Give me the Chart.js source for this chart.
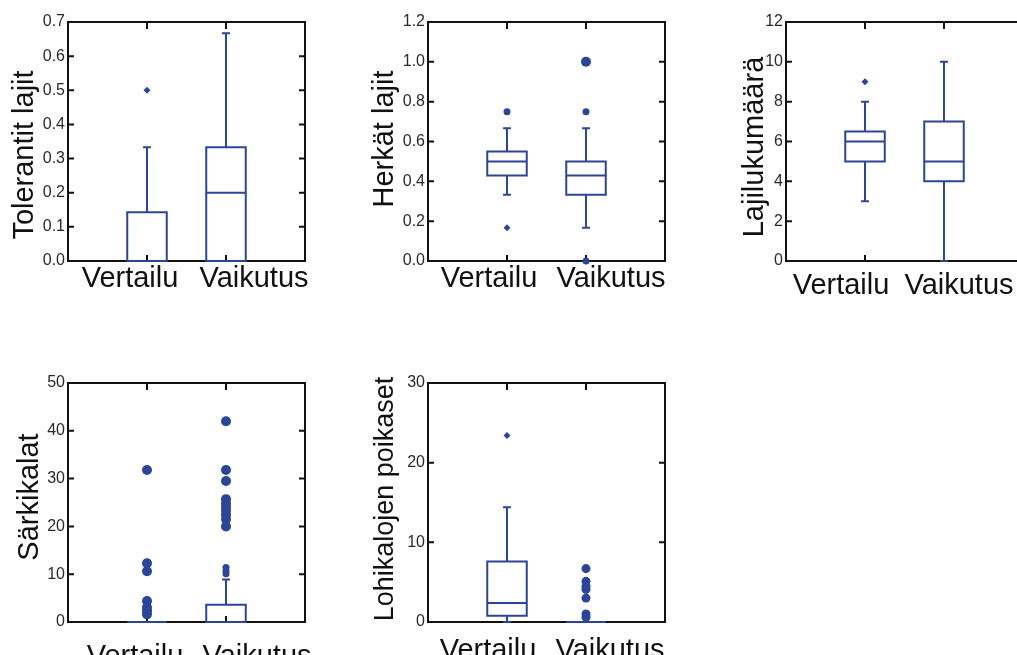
<!DOCTYPE html>
<html>
<head>
<meta charset="utf-8">
<script src="https://cdn.jsdelivr.net/npm/chart.js@4.4.0/dist/chart.umd.min.js"></script>
<style>
  html, body { margin: 0; padding: 0; background: #fff; overflow: hidden; }
  body { width: 1017px; height: 655px; position: relative; }
  .panel { position: absolute; width: 319px; height: 304px; }
</style>
</head>
<body>
<div class="panel" style="left:-2px; top:2px;"><canvas id="c1"></canvas></div>
<div class="panel" style="left:358px; top:2px;"><canvas id="c2"></canvas></div>
<div class="panel" style="left:716px; top:2px;"><canvas id="c3"></canvas></div>
<div class="panel" style="left:-2px; top:363px;"><canvas id="c4"></canvas></div>
<div class="panel" style="left:358px; top:363px;"><canvas id="c5"></canvas></div>
<script>
const categories = ['Vertailu', 'Vaikutus'];

// box summaries per group: [min, Q1, median, Q3, max]
const tolerantitBoxes = [[0, 0, 0, 0.143, 0.333], [0, 0, 0.2, 0.333, 0.667]];
const tolerantitStars = [[0.5], []];
const tolerantitDots = [[], []];
const tolerantitBig = [[], []];

const herkatBoxes = [[0.333, 0.429, 0.5, 0.55, 0.667], [0.167, 0.333, 0.429, 0.5, 0.667]];
const herkatStars = [[0.167], []];
const herkatDots = [[0.75], [0.75, 0]];
const herkatBig = [[], [1.0]];

const lajitBoxes = [[3, 5, 6, 6.5, 8], [0, 4, 5, 7, 10]];
const lajitStars = [[9], []];
const lajitDots = [[], []];
const lajitBig = [[], []];

const sarkiBoxes = [[0, 0, 0, 0, 0], [0, 0, 0, 3.6, 8.9]];
const sarkiStars = [[], []];
const sarkiDots = [[], [11.4, 10.7, 10.1]];
const sarkiBig = [[31.8, 12.3, 10.6, 4.4, 3.0, 2.3, 1.6],
                  [42, 31.8, 29.5, 25.7, 24.8, 24.0, 23.2, 22.4, 21.5, 20.0]];

const lohiBoxes = [[0, 0.8, 2.4, 7.6, 14.4], [0, 0, 0, 0, 0]];
const lohiStars = [[23.4], []];
const lohiDots = [[], []];
const lohiBig = [[], [6.7, 5.1, 4.5, 4.1, 3.0, 1.0, 0.6]];

const yTicks = {
  tolerantit: { max: 0.7, step: 0.1, decimals: 1 },
  herkat: { max: 1.2, step: 0.2, decimals: 1 },
  lajit: { max: 12, step: 2, decimals: 0 },
  sarki: { max: 50, step: 10, decimals: 0 },
  lohi: { max: 30, step: 10, decimals: 0 }
};

const BLUE = '#2c4596';
const INK = '#111';
const FONT = '"Liberation Sans", Arial, sans-serif';

function toPoints(groups) {
  return groups.flatMap((vals, i) => vals.map(v => ({ x: i + 1, y: v })));
}

// frame with inward ticks, the boxes and whiskers, and the texts
const boxPlotPlugin = {
  id: 'boxPlot',
  beforeDatasetsDraw(chart, args, opts) {
    const { ctx, chartArea: a, scales: { x, y } } = chart;
    ctx.save();

    ctx.strokeStyle = INK;
    ctx.lineWidth = 2;
    ctx.strokeRect(a.left, a.top, a.width, a.height);
    ctx.beginPath();
    y.ticks.forEach(t => {
      const py = y.getPixelForValue(t.value);
      ctx.moveTo(a.left, py); ctx.lineTo(a.left + 6, py);
      ctx.moveTo(a.right, py); ctx.lineTo(a.right - 6, py);
    });
    categories.forEach((c, i) => {
      const px = x.getPixelForValue(i + 1);
      ctx.moveTo(px, a.top); ctx.lineTo(px, a.top + 7);
      ctx.moveTo(px, a.bottom); ctx.lineTo(px, a.bottom - 6);
    });
    ctx.stroke();

    ctx.strokeStyle = BLUE;
    ctx.lineWidth = 2;
    opts.boxes.forEach((b, i) => {
      const [mn, q1, med, q3, mx] = b;
      const c = i + 1;
      const cx = x.getPixelForValue(c);
      const x0 = x.getPixelForValue(c - 0.25), x1 = x.getPixelForValue(c + 0.25);
      const k0 = x.getPixelForValue(c - 0.05), k1 = x.getPixelForValue(c + 0.05);
      const py = v => y.getPixelForValue(v);
      ctx.beginPath();
      ctx.rect(x0, py(q3), x1 - x0, py(q1) - py(q3));
      ctx.moveTo(x0, py(med)); ctx.lineTo(x1, py(med));
      if (mx > q3) {
        ctx.moveTo(cx, py(q3)); ctx.lineTo(cx, py(mx));
        ctx.moveTo(k0, py(mx)); ctx.lineTo(k1, py(mx));
      }
      if (mn < q1) {
        ctx.moveTo(cx, py(q1)); ctx.lineTo(cx, py(mn));
        ctx.moveTo(k0, py(mn)); ctx.lineTo(k1, py(mn));
      }
      ctx.stroke();
    });

    ctx.fillStyle = INK;
    ctx.textAlign = 'center';
    ctx.textBaseline = 'alphabetic';
    ctx.font = '29px ' + FONT;
    categories.forEach((c, i) => {
      ctx.fillText(c, a.left + opts.labelX[i], a.bottom + opts.labelDy);
    });

    ctx.translate(a.left + opts.titleDx, a.top + opts.titleY);
    ctx.rotate(-Math.PI / 2);
    ctx.font = opts.titleSize + 'px ' + FONT;
    ctx.fillText(opts.title, 0, 0);
    ctx.restore();
  }
};

function makeChart(id, title, ticks, boxes, stars, dots, big, look) {
  return new Chart(document.getElementById(id), {
    type: 'scatter',
    data: {
      datasets: [
        { data: toPoints(big), pointStyle: 'circle', radius: look.bigR, backgroundColor: BLUE, borderWidth: 0, clip: false },
        { data: toPoints(dots), pointStyle: 'circle', radius: 3.5, backgroundColor: BLUE, borderWidth: 0, clip: false },
        { data: toPoints(stars), pointStyle: 'rectRot', radius: 3.5, backgroundColor: BLUE, borderWidth: 0, clip: false }
      ]
    },
    options: {
      responsive: true,
      maintainAspectRatio: false,
      animation: false,
      events: [],
      layout: { padding: { top: 20, bottom: 45, right: 12, left: 0 } },
      plugins: {
        legend: { display: false },
        tooltip: { enabled: false },
        boxPlot: Object.assign({ boxes: boxes, title: title }, look)
      },
      scales: {
        x: { type: 'linear', display: false, min: 0, max: 3 },
        y: {
          min: 0,
          max: ticks.max,
          grid: { display: false, drawTicks: false },
          border: { display: false },
          ticks: {
            stepSize: ticks.step,
            padding: 3,
            color: '#2a2a2a',
            font: { family: FONT, size: 16 },
            callback: v => v.toFixed(ticks.decimals)
          },
          afterFit: s => { s.width = 70; s.paddingTop = 0; s.paddingBottom = 0; }
        }
      }
    },
    plugins: [boxPlotPlugin]
  });
}

makeChart('c1', 'Tolerantit lajit', yTicks.tolerantit, tolerantitBoxes, tolerantitStars, tolerantitDots, tolerantitBig,
  { bigR: 5, labelX: [62, 186], labelDy: 26, titleDx: -35, titleY: 133, titleSize: 29 });
makeChart('c2', 'Herkät lajit', yTicks.herkat, herkatBoxes, herkatStars, herkatDots, herkatBig,
  { bigR: 5, labelX: [61, 183], labelDy: 26, titleDx: -35, titleY: 117, titleSize: 29 });
makeChart('c3', 'Lajilukumäärä', yTicks.lajit, lajitBoxes, lajitStars, lajitDots, lajitBig,
  { bigR: 5, labelX: [55, 173], labelDy: 33, titleDx: -23, titleY: 125, titleSize: 29 });
makeChart('c4', 'Särkikalat', yTicks.sarki, sarkiBoxes, sarkiStars, sarkiDots, sarkiBig,
  { bigR: 5, labelX: [67, 189], labelDy: 43, titleDx: -30, titleY: 114, titleSize: 29 });
makeChart('c5', 'Lohikalojen poikaset', yTicks.lohi, lohiBoxes, lohiStars, lohiDots, lohiBig,
  { bigR: 4.5, labelX: [60, 182], labelDy: 37, titleDx: -35, titleY: 116, titleSize: 27 });
</script>
</body>
</html>
